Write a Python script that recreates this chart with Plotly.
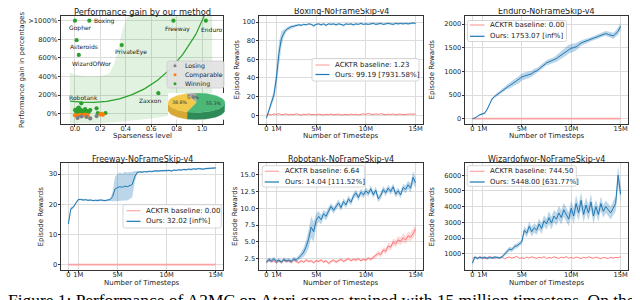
import plotly.graph_objects as go
import numpy as np

W, H = 640, 300
def PX(x): return x / W
def PY(y): return 1 - y / H

# ---------------- data ----------------
# scatter panel: performance gain vs sparseness
named_games = ["Gopher", "Boxing", "Freeway", "Enduro", "Asteroids", "PrivateEye", "WizardOfWor", "Zaxxon", "Robotank"]
named_x = [0.0, 0.113, 0.775, 1.03, 0.013, 0.368, 0.03, 0.656, 0.05]
named_y = [1000, 1000, 1000, 1000, 791, 738, 632, 221, 112]
win_x = [0.0, 0.01, 0.02, 0.03, 0.035, 0.04, 0.05, 0.06, 0.07, 0.08, 0.09, 0.1, 0.11, 0.12, 0.03, 0.06, 0.17, 0.18, 0.24, 0.015]
win_y = [40, 20, 55, 10, 30, 48, 15, 35, 25, 50, 12, 28, 20, 40, 65, 5, 58, 8, 8, 30]
cmp_x = [0.0, 0.02, 0.04, 0.06, 0.08, 0.1, 0.2, 0.22, 0.21, 0.05]
cmp_y = [-15, -20, -12, -18, -10, -15, -8, -12, 0, -25]
lose_x = [0.02, 0.05, 0.09, 0.12, 0.17]
lose_y = [-45, -30, -35, -50, -25]
fit_x = [-0.04, 0.05, 0.15, 0.25, 0.35, 0.45, 0.55, 0.65, 0.75, 0.85, 0.95, 1.0, 1.05]
fit_y = [135, 125, 122, 132, 160, 205, 270, 360, 480, 640, 850, 1000, 1150]
band_x = [-0.04, 0.0, 0.1, 0.2, 0.27, 0.31, 0.34, 0.37, 0.40, 0.43, 1.08, 1.08, 0.95, 0.8, 0.6, 0.4, 0.2, -0.04]
band_y = [440, 420, 400, 405, 430, 540, 700, 880, 1000, 1100, 1100, 60, 20, -10, -50, -80, -105, -105]
scatter_xticks = [0, 0.2, 0.4, 0.6, 0.8, 1.0]
scatter_xticktext = ["0.0", "0.2", "0.4", "0.6", "0.8", "1.0"]
scatter_yticks = [0, 200, 400, 600, 800, 1000]
scatter_yticktext = ["0%", "200%", "400%", "600%", "800%", ">1000%"]

pie_labels = ["Losing", "Comparable", "Winning"]
pie_pct = [5.9, 38.8, 55.3]

# timesteps (millions)
T = [0, 0.25, 0.5, 0.75, 1, 1.25, 1.5, 1.75, 2, 2.25,
     2.5, 2.75, 3, 3.25, 3.5, 3.75, 4, 4.25, 4.5, 4.75,
     5, 5.25, 5.5, 5.75, 6, 6.25, 6.5, 6.75, 7, 7.25,
     7.5, 7.75, 8, 8.25, 8.5, 8.75, 9, 9.25, 9.5, 9.75,
     10, 10.25, 10.5, 10.75, 11, 11.25, 11.5, 11.75, 12, 12.25,
     12.5, 12.75, 13, 13.25, 13.5, 13.75, 14, 14.25, 14.5, 14.75,
     15]
T_ends = [0, 15]
x_tickvals = [0, 1, 5, 10, 15]
x_ticktext = ["0", "1M", "5M", "10M", "15M"]

boxing_ours = [-3, 5, 13, 22, 40, 66, 82, 88, 92, 93.5,
               95, 95.5, 96.5, 97, 96.5, 97.5, 97, 98, 97.5, 96,
               97.5, 98, 97, 98, 96.5, 98, 97.5, 98, 97, 98,
               97.5, 96.5, 98, 97.5, 98, 97, 98, 97.5, 98.5, 97.5,
               98, 97.5, 98, 98.5, 97.5, 98, 98.5, 97.5, 98, 98.5,
               98, 97.5, 98.5, 98, 98.5, 98, 98.5, 98, 98.5, 99,
               98.5]
boxing_ours_sd = [1, 2, 3, 5, 10, 12, 8, 4, 2.5, 2,
                  1.5, 1.5, 1.2, 1.2, 1.2, 1, 1, 1, 1, 1.5,
                  1, 1, 1.2, 1, 1.5, 1, 1, 1, 1.2, 1,
                  1, 1.5, 1, 1, 1, 1.2, 1, 1, 1, 1,
                  1, 1, 1, 1, 1.2, 1, 1, 1, 1, 1,
                  1, 1.2, 1, 1, 1, 1, 1, 1, 1, 1,
                  1]
boxing_base = [0.5, 1.2, 0.3, 1.5, 0.8, 1.8, 0.6, 1.0, 1.4, 0.4,
               1.1, 0.7, 1.6, 0.9, 0.2, 1.2, 0.8, 1.5, 0.6, 1.0,
               0.4, 1.3, 0.9, 0.3, 1.1, 0.6, 1.4, 0.5, 0.9, 1.2,
               0.3, 0.8, 1.0, 0.5, 1.3, 0.7, 1.1, 0.4, 0.9, 1.6,
               1.0, 2.0, 1.2, 0.8, 1.5, 0.9, 1.7, 1.1, 0.6, 1.3,
               0.9, 1.4, 0.7, 1.2, 1.0, 1.5, 0.8, 1.3, 1.0, 1.4,
               1.2]

enduro_ours = [0, 15, 50, 85, 100, 120, 200, 330, 420, 470,
               510, 560, 600, 640, 680, 700, 730, 770, 800, 830,
               880, 900, 920, 930, 950, 990, 1010, 1050, 1100, 1140,
               1180, 1200, 1220, 1240, 1270, 1310, 1350, 1380, 1420, 1470,
               1490, 1500, 1520, 1560, 1600, 1620, 1640, 1660, 1680, 1700,
               1720, 1740, 1760, 1790, 1800, 1780, 1770, 1750, 1790, 1850,
               1950]
enduro_ours_sd = [5, 10, 15, 20, 20, 25, 30, 30, 30, 30,
                  35, 40, 45, 50, 55, 60, 65, 70, 70, 75,
                  75, 75, 70, 70, 65, 65, 60, 60, 55, 55,
                  55, 60, 60, 60, 70, 75, 80, 80, 85, 90,
                  90, 85, 80, 70, 60, 55, 50, 45, 45, 45,
                  45, 50, 50, 55, 55, 60, 60, 65, 70, 75,
                  80]
enduro_base = [0.0, 0.0]

freeway_ours = [13.5, 18.5, 19, 20.5, 21.5, 21.6, 21.4, 21.5, 21.3, 21.4,
                21.2, 21.3, 21.2, 21.4, 21.3, 21.2, 21.4, 21.5, 22.5, 25.0,
                25.5, 25.8, 25.6, 26.0, 25.8, 26.2, 26.5, 29.0, 30.5, 30.7,
                30.6, 30.8, 30.7, 30.9, 30.8, 31.0, 30.9, 31.0, 31.1, 31.0,
                31.1, 31.2, 31.0, 31.3, 31.2, 31.4, 31.3, 31.5, 31.4, 31.6,
                31.5, 31.7, 31.6, 31.8, 31.7, 31.6, 31.8, 31.9, 31.8, 32.0,
                32.0]
freeway_ours_sd = [0.8, 0.6, 0.5, 0.4, 0.3, 0.3, 0.3, 0.3, 0.3, 0.3,
                   0.3, 0.3, 0.3, 0.3, 0.3, 0.3, 0.3, 0.4, 1.5, 4.0,
                   4.5, 4.8, 4.5, 4.8, 4.6, 4.5, 4.2, 2.0, 0.5, 0.3,
                   0.3, 0.3, 0.3, 0.3, 0.3, 0.3, 0.3, 0.3, 0.3, 0.3,
                   0.3, 0.3, 0.3, 0.3, 0.3, 0.3, 0.3, 0.3, 0.3, 0.3,
                   0.3, 0.3, 0.3, 0.3, 0.3, 0.3, 0.3, 0.3, 0.3, 0.3,
                   0.3]
freeway_base = [0.0, 0.0]

robotank_ours = [2.0, 2.4, 2.2, 2.5, 2.1, 2.3, 2.0, 2.4, 2.2, 2.3,
                 2.1, 2.5, 2.3, 2.6, 3.0, 3.5, 4.3, 5.5, 7.2, 6.5,
                 8.2, 8.8, 8.3, 9.2, 8.8, 9.6, 10.3, 9.7, 10.2, 10.8,
                 10.1, 11.0, 10.5, 11.4, 10.9, 11.8, 12.3, 11.6, 12.4, 12.0,
                 12.6, 12.2, 12.9, 12.0, 12.7, 11.4, 11.9, 12.8, 12.3, 13.0,
                 12.5, 13.2, 12.1, 12.6, 12.0, 13.1, 12.8, 13.5, 13.0, 14.6,
                 13.8]
robotank_ours_sd = [0.3, 0.3, 0.3, 0.3, 0.3, 0.3, 0.3, 0.3, 0.3, 0.3,
                    0.3, 0.3, 0.3, 0.4, 0.5, 0.7, 1.0, 1.4, 1.6, 1.5,
                    1.0, 0.8, 0.7, 0.6, 0.6, 0.6, 0.5, 0.5, 0.5, 0.5,
                    0.5, 0.5, 0.5, 0.5, 0.5, 0.5, 0.5, 0.5, 0.5, 0.5,
                    0.5, 0.5, 0.5, 0.5, 0.5, 0.5, 0.5, 0.5, 0.5, 0.5,
                    0.5, 0.5, 0.5, 0.5, 0.5, 0.5, 0.6, 0.6, 0.7, 0.9,
                    0.8]
robotank_base = [2.0, 2.3, 2.1, 2.2, 1.9, 2.2, 2.0, 2.3, 2.1, 2.2,
                 2.0, 2.3, 2.1, 1.9, 2.2, 2.0, 2.3, 2.1, 2.2, 1.9,
                 2.2, 2.1, 2.3, 2.0, 2.2, 1.8, 2.1, 2.3, 2.0, 2.2,
                 2.4, 2.1, 2.3, 2.5, 2.2, 2.4, 2.3, 2.5, 2.2, 2.4,
                 2.3, 2.6, 2.4, 2.7, 2.9, 3.3, 3.1, 3.8, 3.6, 4.4,
                 4.2, 5.0, 4.7, 5.3, 5.1, 5.6, 5.3, 5.9, 5.7, 6.2,
                 6.9]
robotank_base_sd = [0.2, 0.2, 0.2, 0.2, 0.2, 0.2, 0.2, 0.2, 0.2, 0.2,
                    0.2, 0.2, 0.2, 0.2, 0.2, 0.2, 0.2, 0.2, 0.2, 0.2,
                    0.2, 0.2, 0.2, 0.2, 0.2, 0.2, 0.2, 0.2, 0.2, 0.2,
                    0.2, 0.2, 0.2, 0.2, 0.2, 0.2, 0.2, 0.2, 0.2, 0.2,
                    0.2, 0.2, 0.25, 0.3, 0.3, 0.35, 0.4, 0.4, 0.45, 0.5,
                    0.5, 0.5, 0.55, 0.55, 0.6, 0.6, 0.6, 0.65, 0.65, 0.7,
                    0.7]

wizard_ours = [400, 780, 700, 760, 720, 770, 700, 750, 730, 790,
               760, 720, 800, 950, 1150, 1300, 1250, 1450, 1500, 1600,
               1750, 2500, 2300, 2750, 2400, 2650, 2500, 2900, 2600, 3100,
               2900, 3300, 2950, 3400, 3200, 3600, 3300, 3800, 3500, 3200,
               3900, 3400, 4200, 3600, 4400, 3500, 4100, 3600, 4300, 3400,
               4000, 3500, 4200, 3700, 4000, 3800, 3600, 3900, 4200, 6000,
               4800]
wizard_ours_sd = [150, 100, 80, 80, 80, 80, 80, 80, 80, 80,
                  80, 80, 100, 120, 150, 150, 150, 150, 150, 150,
                  150, 250, 250, 300, 300, 300, 300, 350, 350, 350,
                  350, 400, 400, 400, 400, 450, 450, 450, 450, 450,
                  500, 500, 550, 500, 550, 500, 500, 500, 500, 500,
                  450, 450, 450, 400, 400, 400, 400, 450, 500, 600,
                  500]
wizard_base = [700, 780, 720, 800, 740, 690, 760, 810, 730, 700,
               770, 720, 800, 680, 750, 790, 710, 760, 820, 700,
               740, 690, 780, 720, 800, 750, 700, 770, 730, 810,
               690, 760, 720, 800, 740, 700, 780, 730, 820, 710,
               760, 700, 790, 740, 690, 770, 720, 800, 750, 710,
               780, 720, 690, 760, 740, 700, 770, 720, 760, 740,
               810]

for arr in [boxing_ours, boxing_ours_sd, boxing_base, enduro_ours, enduro_ours_sd,
            freeway_ours, freeway_ours_sd, robotank_ours, robotank_ours_sd,
            robotank_base, robotank_base_sd, wizard_ours, wizard_ours_sd, wizard_base]:
    assert len(arr) == len(T), len(arr)

# ---------------- styling ----------------
FONT = "DejaVu Sans"
BLUE = "#1f77b4"
BLUE_FILL = "rgba(31,119,180,0.30)"
RED = "#ff6868"
RED_FLAT = "#f7a3a3"
RED_FILL = "rgba(255,0,0,0.15)"
GREEN = "#2ca02c"
ORANGE = "#ff7f0e"
GRAY = "#7f7f7f"

COL = [(53, 215), (251, 415), (457, 620)]
ROW = [(7.5, 115.5), (155, 262)]

fig = go.Figure()

def axstyle(xaxis=True, **kw):
    d = dict(showline=True, mirror=True, linecolor="#333", linewidth=0.8,
             ticks="outside", ticklen=2.5, tickwidth=0.8, tickcolor="#333",
             showgrid=True, gridcolor="#dcdcdc", gridwidth=0.8, zeroline=False,
             tickfont=dict(size=6.7, color="#222", family=FONT), fixedrange=True,
             ticklabelstandoff=(-4 if xaxis else -1))
    d.update(kw)
    return d

annotations = []
shapes = []

def text(x, y, s, size=7, angle=0, xanchor="center", yanchor="middle", color="#222", family=FONT):
    annotations.append(dict(x=PX(x), y=PY(y), xref="paper", yref="paper", text=s, showarrow=False,
                            textangle=angle, xanchor=xanchor, yanchor=yanchor, borderpad=0,
                            font=dict(size=size, color=color, family=family)))

def rbox(x0, y0, x1, y1, fill, line, r=2.0):
    X0, X1, Yt, Yb = PX(x0), PX(x1), PY(y0), PY(y1)
    rx, ry = r / W, r / H
    path = (f"M {X0+rx},{Yt} L {X1-rx},{Yt} Q {X1},{Yt} {X1},{Yt-ry} L {X1},{Yb+ry} "
            f"Q {X1},{Yb} {X1-rx},{Yb} L {X0+rx},{Yb} Q {X0},{Yb} {X0},{Yb+ry} "
            f"L {X0},{Yt-ry} Q {X0},{Yt} {X0+rx},{Yt} Z")
    shapes.append(dict(type="path", path=path, xref="paper", yref="paper",
                       fillcolor=fill, line=dict(color=line, width=0.8), layer="above"))

# ---------------- panel 1: scatter ----------------
fig.add_trace(go.Scatter(x=band_x, y=band_y, fill="toself", fillcolor="rgba(44,160,44,0.14)",
                         line=dict(width=0), mode="lines", hoverinfo="skip", showlegend=False,
                         xaxis="x", yaxis="y"))
fig.add_trace(go.Scatter(x=fit_x, y=fit_y, mode="lines", line=dict(color=GREEN, width=1.2),
                         showlegend=False, xaxis="x", yaxis="y"))
fig.add_trace(go.Scatter(x=win_x + named_x, y=win_y + named_y, mode="markers",
                         marker=dict(color=GREEN, size=4.2, line=dict(width=0)),
                         showlegend=False, xaxis="x", yaxis="y"))
fig.add_trace(go.Scatter(x=cmp_x, y=cmp_y, mode="markers",
                         marker=dict(color=ORANGE, size=4.2, line=dict(width=0)),
                         showlegend=False, xaxis="x", yaxis="y"))
fig.add_trace(go.Scatter(x=lose_x, y=lose_y, mode="markers",
                         marker=dict(color=GRAY, size=4.2, line=dict(width=0)),
                         showlegend=False, xaxis="x", yaxis="y"))

label_pos = {  # (x, y, xanchor) in data coordinates of the label text
    "Gopher": (0.04, 920, "center"), "Boxing": (0.14, 1000, "left"),
    "Freeway": (0.81, 909, "center"), "Enduro": (1.076, 909, "center"),
    "Asteroids": (0.071, 721, "center"), "PrivateEye": (0.44, 663, "center"),
    "WizardOfWor": (0.131, 535, "center"), "Zaxxon": (0.59, 143, "center"),
    "Robotank": (0.065, 175, "center"),
}
for g in named_games:
    lx, ly, xa = label_pos[g]
    annotations.append(dict(x=lx, y=ly, xref="x", yref="y", text=g, showarrow=False,
                            xanchor=xa, yanchor="middle", borderpad=0,
                            font=dict(size=6, color="#222", family=FONT)))

fig.update_layout(
    xaxis=axstyle(domain=[PX(COL[0][0]), PX(COL[0][1])], range=[-0.11, 1.165],
                  tickvals=scatter_xticks, ticktext=scatter_xticktext, anchor="y"),
    yaxis=axstyle(xaxis=False, domain=[PY(ROW[0][1]), PY(ROW[0][0])], range=[-105, 1056],
                  tickvals=scatter_yticks, ticktext=scatter_yticktext, anchor="x"),
)
text(134, 3.5, "Performance gain by our method", size=8.3)
text(134, 128, "Sparseness level", size=7)
text(14, 62, "Performance gain in percentages", size=7, angle=-90)

# scatter legend
rbox(159, 53, 216, 80, "rgba(225,225,225,0.9)", "#cccccc", r=2.5)
for (lab, col, yy) in [("Losing", GRAY, 57.7), ("Comparable", ORANGE, 66.7), ("Winning", GREEN, 75.7)]:
    shapes.append(dict(type="circle", xref="paper", yref="paper",
                       x0=PX(165.5), x1=PX(168.5), y0=PY(yy + 1.5), y1=PY(yy - 1.5),
                       fillcolor=col, line=dict(width=0), layer="above"))
    text(176, yy, lab, size=6.2, xanchor="left")

# pie inset (elliptical 3-D look) drawn on its own hidden axes
thick = 0.74
angles = [90.0]
for p in pie_pct:
    angles.append(angles[-1] + p / 100 * 360)
top_cols = ["#a8a8a8", "#f2c94c", "#4cb877"]
side_cols = ["#8c8c8c", "#d6a936", "#2e8b57"]
for i in range(3):
    a0, a1 = angles[i], angles[i + 1]
    for base in (180, 540):
        s0, s1 = max(a0, base), min(a1, base + 180)
        if s1 > s0:
            th = np.radians(np.linspace(s0, s1, 40))
            xs = list(np.cos(th)) + list(np.cos(th[::-1]))
            ys = list(np.sin(th)) + list(np.sin(th[::-1]) - thick)
            fig.add_trace(go.Scatter(x=xs, y=ys, fill="toself", fillcolor=side_cols[i], mode="lines",
                                     line=dict(width=0.3, color=side_cols[i]), showlegend=False,
                                     hoverinfo="skip", xaxis="x7", yaxis="y7"))
for i in range(3):
    a0, a1 = angles[i], angles[i + 1]
    th = np.radians(np.linspace(a0, a1, 60))
    xs = [0] + list(np.cos(th)) + [0]
    ys = [0] + list(np.sin(th)) + [0]
    fig.add_trace(go.Scatter(x=xs, y=ys, fill="toself", fillcolor=top_cols[i], mode="lines",
                             line=dict(width=0.3, color=top_cols[i]), showlegend=False,
                             hoverinfo="skip", xaxis="x7", yaxis="y7"))
    mid = np.radians((a0 + a1) / 2)
    annotations.append(dict(x=0.6 * np.cos(mid), y=0.6 * np.sin(mid), xref="x7", yref="y7",
                            text=f"{pie_pct[i]:.1f}%", showarrow=False, borderpad=0,
                            font=dict(size=4.7, color="#333", family=FONT)))
fig.update_layout(
    xaxis7=dict(domain=[PX(160), PX(217)], range=[-1.0, 1.0], visible=False, anchor="y7", fixedrange=True),
    yaxis7=dict(domain=[PY(111.7), PY(85)], range=[-1.0 - thick, 1.0], visible=False, anchor="x7", fixedrange=True),
)

# ---------------- line panels ----------------
panels = [
    dict(k=2, col=1, row=0, title="Boxing-NoFrameSkip-v4", ours=boxing_ours, sd=boxing_ours_sd,
         base=boxing_base, base_t=T, base_sd=None, yr=[-8.8, 107], yt=[0, 20, 40, 60, 80, 100],
         ytt=["0", "20", "40", "60", "80", "100"],
         leg=("ACKTR baseline: 1.23", "Ours: 99.19 [7931.58%]"),
         box=(304, 50.5, 411, 73), lx=(307.5, 321.5), ly=(57, 66.5), tx=326, ylab_x=229),
    dict(k=3, col=2, row=0, title="Enduro-NoFrameSkip-v4", ours=enduro_ours, sd=enduro_ours_sd,
         base=enduro_base, base_t=T_ends, base_sd=None, yr=[-101, 2180], yt=[0, 500, 1000, 1500, 2000],
         ytt=["0", "500", "1000", "1500", "2000"],
         leg=("ACKTR baseline: 0.00", "Ours: 1753.07 [inf%]"),
         box=(459.5, 12.5, 558.5, 33.5), lx=(462, 476.5), ly=(17, 28.3), tx=480.5, ylab_x=424),
    dict(k=4, col=0, row=1, title="Freeway-NoFrameSkip-v4", ours=freeway_ours, sd=freeway_ours_sd,
         base=freeway_base, base_t=T_ends, base_sd=None, yr=[-1.75, 33.64], yt=[0, 10, 20, 30],
         ytt=["0", "10", "20", "30"],
         leg=("ACKTR baseline: 0.00", "Ours: 32.02 [inf%]"),
         box=(115, 196.7, 213.3, 220), lx=(118.5, 132.5), ly=(202.7, 213.3), tx=136.7, ylab_x=33),
    dict(k=5, col=1, row=1, title="Robotank-NoFrameSkip-v4", ours=robotank_ours, sd=robotank_ours_sd,
         base=robotank_base, base_t=T, base_sd=robotank_base_sd, yr=[0.82, 16.74],
         yt=[2.5, 5.0, 7.5, 10.0, 12.5, 15.0], ytt=["2.5", "5.0", "7.5", "10.0", "12.5", "15.0"],
         leg=("ACKTR baseline: 6.64", "Ours: 14.04 [111.52%]"),
         box=(254.3, 157.7, 356.7, 179), lx=(256.7, 271), ly=(163.3, 174), tx=275.5, ylab_x=227.5),
    dict(k=6, col=2, row=1, title="Wizardofwor-NoFrameSkip-v4", ours=wizard_ours, sd=wizard_ours_sd,
         base=wizard_base, base_t=T, base_sd=None, yr=[-40, 6784],
         yt=[1000, 2000, 3000, 4000, 5000, 6000], ytt=["1000", "2000", "3000", "4000", "5000", "6000"],
         leg=("ACKTR baseline: 744.50", "Ours: 5448.00 [631.77%]"),
         box=(459.3, 157.7, 568.3, 178.3), lx=(461.7, 476.7), ly=(163.3, 174), tx=480.5, ylab_x=424),
]

for p in panels:
    k = p["k"]
    xa, ya = f"x{k}", f"y{k}"
    c0, c1 = COL[p["col"]]
    r0, r1 = ROW[p["row"]]
    ours, sd = p["ours"], p["sd"]
    up = [m + s for m, s in zip(ours, sd)]
    lo = [m - s for m, s in zip(ours, sd)]
    flat = len(p["base"]) == 2
    if p["base_sd"] is not None:
        bu = [m + s for m, s in zip(p["base"], p["base_sd"])]
        bl = [m - s for m, s in zip(p["base"], p["base_sd"])]
        fig.add_trace(go.Scatter(x=p["base_t"] + p["base_t"][::-1], y=bu + bl[::-1], fill="toself",
                                 fillcolor=RED_FILL, line=dict(width=0), mode="lines",
                                 showlegend=False, hoverinfo="skip", xaxis=xa, yaxis=ya))
    fig.add_trace(go.Scatter(x=p["base_t"], y=p["base"], mode="lines",
                             line=dict(color=RED_FLAT if flat else RED, width=1.8 if flat else 0.9),
                             showlegend=False, xaxis=xa, yaxis=ya))
    fig.add_trace(go.Scatter(x=T + T[::-1], y=up + lo[::-1], fill="toself", fillcolor=BLUE_FILL,
                             line=dict(width=0), mode="lines", showlegend=False, hoverinfo="skip",
                             xaxis=xa, yaxis=ya))
    fig.add_trace(go.Scatter(x=T, y=ours, mode="lines", line=dict(color=BLUE, width=1.0),
                             showlegend=False, xaxis=xa, yaxis=ya))
    fig.update_layout(**{
        f"xaxis{k}": axstyle(domain=[PX(c0), PX(c1)], range=[-0.75, 15.75], tickvals=x_tickvals,
                             ticktext=x_ticktext, anchor=ya),
        f"yaxis{k}": axstyle(xaxis=False, domain=[PY(r1), PY(r0)], range=p["yr"], tickvals=p["yt"],
                             ticktext=p["ytt"], anchor=xa),
    })
    cx = (c0 + c1) / 2
    text(cx, r0 - 4, p["title"], size=8)
    text(cx, r1 + 12.5, "Number of Timesteps", size=7)
    text(p["ylab_x"], (r0 + r1) / 2, "Episode Rewards", size=7, angle=-90)
    bx0, by0, bx1, by1 = p["box"]
    rbox(bx0, by0, bx1, by1, "rgba(255,255,255,0.85)", "#cccccc", r=2.0)
    for (lab, col, yy) in [(p["leg"][0], "rgba(255,60,60,0.45)", p["ly"][0]), (p["leg"][1], BLUE, p["ly"][1])]:
        shapes.append(dict(type="line", xref="paper", yref="paper", x0=PX(p["lx"][0]), x1=PX(p["lx"][1]),
                           y0=PY(yy), y1=PY(yy), line=dict(color=col, width=1.2), layer="above"))
        text(p["tx"], yy, lab, size=7, xanchor="left")

# caption (cut by the bottom edge, as in the source)
text(-1, 281, "Figure 1: Performance of A2MC on Atari games trained with 15 million timesteps. On the",
     size=17.4, xanchor="left", yanchor="top", color="#000", family="Liberation Serif")

fig.update_layout(width=W, height=H, margin=dict(l=0, r=0, t=0, b=0),
                  paper_bgcolor="white", plot_bgcolor="white", showlegend=False,
                  annotations=annotations, shapes=shapes)

fig.write_html("out.html")
